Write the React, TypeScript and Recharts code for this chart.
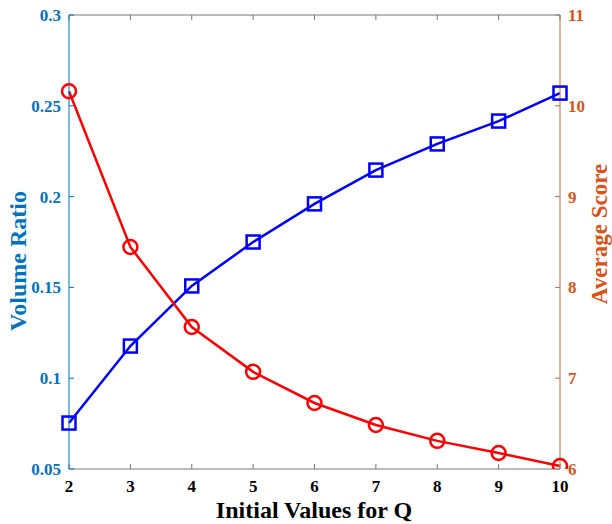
import React from 'react';
import { LineChart, Line, XAxis, YAxis, Label } from 'recharts';

const qValues = [2, 3, 4, 5, 6, 7, 8, 9, 10];
const volumeRatio = [0.0753, 0.1177, 0.1508, 0.175, 0.196, 0.2146, 0.229, 0.2416, 0.257];
const averageScore = [10.16, 8.445, 7.564, 7.07, 6.727, 6.485, 6.31, 6.176, 6.033];
const leftTicks = [0.05, 0.1, 0.15, 0.2, 0.25, 0.3];
const rightTicks = [6, 7, 8, 9, 10, 11];

const data = qValues.map((q, i) => ({ q, volume: volumeRatio[i], score: averageScore[i] }));

const FONT = '"Liberation Serif", "Times New Roman", serif';
const LEFT_COLOR = '#0072BD';
const RIGHT_COLOR = '#D95319';

const SquareDot = (props: any) => {
  const { cx, cy } = props;
  if (cx == null || cy == null) return null;
  const s = 13;
  return <rect x={cx - s / 2} y={cy - s / 2} width={s} height={s} fill="none" stroke="#0000FF" strokeWidth={2.5} />;
};

const CircleDot = (props: any) => {
  const { cx, cy } = props;
  if (cx == null || cy == null) return null;
  return <circle cx={cx} cy={cy} r={7} fill="none" stroke="#FF0000" strokeWidth={2.5} />;
};

const BottomTick = (props: any) => {
  const { x, y, payload } = props;
  return (
    <text x={x} y={y + 14} textAnchor="middle" fill="#000" fontFamily={FONT} fontSize={17} fontWeight="bold">
      {payload.value}
    </text>
  );
};

const LeftTick = (props: any) => {
  const { x, y, payload } = props;
  return (
    <text x={x} y={y + 6} textAnchor="end" fill={LEFT_COLOR} fontFamily={FONT} fontSize={17} fontWeight="bold">
      {payload.value}
    </text>
  );
};

const RightTick = (props: any) => {
  const { x, y, payload } = props;
  return (
    <text x={x} y={y + 6} textAnchor="start" fill={RIGHT_COLOR} fontFamily={FONT} fontSize={17} fontWeight="bold">
      {payload.value}
    </text>
  );
};

const NoTick = () => null;

export default function App() {
  return (
    <div style={{ position: 'absolute', left: 0, top: 0, width: 612, height: 524, background: '#fff' }}>
      <LineChart width={612} height={524} data={data} margin={{ top: 14, right: 0, left: 0, bottom: 0 }}>
        <XAxis
          xAxisId="bottom"
          dataKey="q"
          type="number"
          domain={[2, 10]}
          ticks={qValues}
          height={55}
          stroke="#777"
          tickSize={-5}
          tickMargin={14}
          tick={<BottomTick />}
        >
          <Label
            content={() => (
              <text x={314} y={518} textAnchor="middle" fill="#000" fontFamily={FONT} fontSize={24} fontWeight="bold">
                Initial Values for Q
              </text>
            )}
          />
        </XAxis>
        <XAxis
          xAxisId="top"
          dataKey="q"
          type="number"
          orientation="top"
          domain={[2, 10]}
          ticks={qValues}
          height={1}
          stroke="#777"
          tickSize={-5}
          tick={<NoTick />}
        />
        <YAxis
          yAxisId="left"
          type="number"
          domain={[0.05, 0.3]}
          ticks={leftTicks}
          width={69}
          stroke={LEFT_COLOR}
          tickSize={-5}
          tickMargin={13}
          tick={<LeftTick />}
          allowDataOverflow
        >
          <Label
            content={() => (
              <text transform="translate(26,261) rotate(-90)" textAnchor="middle" fill={LEFT_COLOR} fontFamily={FONT} fontSize={24} fontWeight="bold">
                Volume Ratio
              </text>
            )}
          />
        </YAxis>
        <YAxis
          yAxisId="right"
          orientation="right"
          type="number"
          domain={[6, 11]}
          ticks={rightTicks}
          width={52}
          stroke="#B5704F"
          tickSize={-5}
          tickMargin={13}
          tick={<RightTick />}
          allowDataOverflow
        >
          <Label
            content={() => (
              <text transform="translate(607,234) rotate(-90)" textAnchor="middle" fill={RIGHT_COLOR} fontFamily={FONT} fontSize={23} fontWeight="bold">
                Average Score
              </text>
            )}
          />
        </YAxis>
        <Line
          xAxisId="bottom"
          yAxisId="left"
          dataKey="volume"
          stroke="#0000FF"
          strokeWidth={2.5}
          dot={<SquareDot />}
          isAnimationActive={false}
        />
        <Line
          xAxisId="bottom"
          yAxisId="right"
          dataKey="score"
          stroke="#FF0000"
          strokeWidth={2.5}
          dot={<CircleDot />}
          isAnimationActive={false}
        />
      </LineChart>
    </div>
  );
}
